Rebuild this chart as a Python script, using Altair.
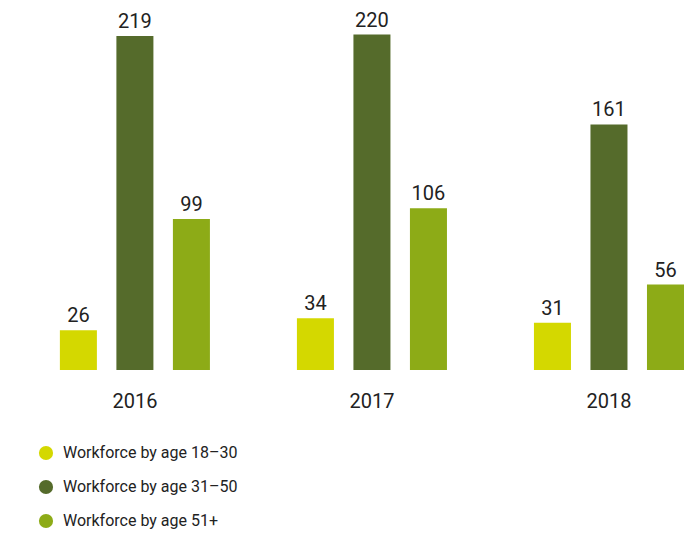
import altair as alt
import pandas as pd

years = ["2016", "2017", "2018"]
series = ["Workforce by age 18–30", "Workforce by age 31–50", "Workforce by age 51+"]
values_18_30 = [26, 34, 31]
values_31_50 = [219, 220, 161]
values_51 = [99, 106, 56]
colors = ["#d4d800", "#556b2b", "#8dab17"]

rows = []
for i, y in enumerate(years):
    for s, vals in zip(series, [values_18_30, values_31_50, values_51]):
        rows.append({"year": y, "series": s, "value": vals[i]})
df = pd.DataFrame(rows)

FONT = "Roboto"
TOP = 6

x = alt.X("year:N", sort=years,
          scale=alt.Scale(paddingInner=0.367, paddingOuter=0.12, align=0.912),
          axis=alt.Axis(title=None, domain=False, ticks=False, labelAngle=0,
                        labelFontSize=20, labelFont=FONT, labelColor="#222222",
                        labelPadding=21))
xo = alt.XOffset("series:N", sort=series,
                 scale=alt.Scale(paddingInner=0.345, paddingOuter=0))
y = alt.Y("value:Q", scale=alt.Scale(domain=[0, 237.4 - TOP / 1.525]), axis=None)

bars = alt.Chart(df).mark_bar().encode(
    x=x, xOffset=xo, y=y,
    color=alt.Color("series:N", sort=series,
                    scale=alt.Scale(domain=series, range=colors),
                    legend=alt.Legend(title=None, orient="none", legendX=30, legendY=437 - TOP,
                                      symbolType="circle", symbolSize=201,
                                      symbolStrokeWidth=0, symbolOpacity=1,
                                      labelFont=FONT, labelFontSize=16, labelLimit=400,
                                      labelColor="#222222", rowPadding=18,
                                      labelOffset=9)),
)

labels = alt.Chart(df).mark_text(baseline="bottom", dy=-4, fontSize=20, font=FONT,
                                 color="#222222").encode(
    x=x, xOffset=xo, y=y, text="value:Q"
)

chart = (bars + labels).properties(
    width=681, height=362 - TOP,
    autosize=alt.AutoSizeParams(type="none"),
    padding={"left": 0, "top": TOP, "right": 0, "bottom": 163},
).configure_view(stroke=None)

chart.save("out.html", embed_options={"renderer": "svg", "actions": False})
